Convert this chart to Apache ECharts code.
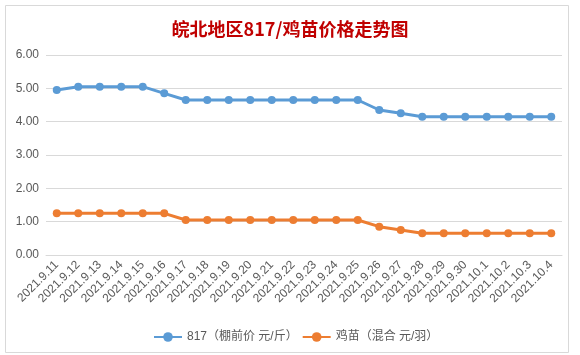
<!DOCTYPE html>
<html>
<head>
<meta charset="utf-8">
<script src="https://cdn.jsdelivr.net/npm/echarts@6/dist/echarts.min.js"></script>
<style>
html,body{margin:0;padding:0;background:#fff;}
#c{width:580px;height:355px;}
</style>
</head>
<body>
<div id="c"></div>
<script>
const categories = ["2021.9.11","2021.9.12","2021.9.13","2021.9.14","2021.9.15","2021.9.16","2021.9.17","2021.9.18","2021.9.19","2021.9.20","2021.9.21","2021.9.22","2021.9.23","2021.9.24","2021.9.25","2021.9.26","2021.9.27","2021.9.28","2021.9.29","2021.9.30","2021.10.1","2021.10.2","2021.10.3","2021.10.4"];
const price817 = [4.95,5.05,5.05,5.05,5.05,4.85,4.65,4.65,4.65,4.65,4.65,4.65,4.65,4.65,4.65,4.35,4.25,4.15,4.15,4.15,4.15,4.15,4.15,4.15];
const chickPrice = [1.25,1.25,1.25,1.25,1.25,1.25,1.05,1.05,1.05,1.05,1.05,1.05,1.05,1.05,1.05,0.85,0.75,0.65,0.65,0.65,0.65,0.65,0.65,0.65];
const seriesNames = ["817（棚前价 元/斤）","鸡苗（混合 元/羽）"];
const titleText = "皖北地区817/鸡苗价格走势图";
const yTicks = {min: 0, max: 6, interval: 1};

const FONT = "'Liberation Sans','Noto Sans CJK SC',sans-serif";
const chart = echarts.init(document.getElementById('c'), null, {renderer: 'canvas'});
chart.setOption({
  animation: false,
  backgroundColor: '#ffffff',
  title: {
    text: titleText,
    left: 'center',
    top: 15,
    textStyle: {color: '#C00000', fontSize: 18, fontWeight: 'bold', fontFamily: "'Noto Sans CJK SC',sans-serif"}
  },
  graphic: [{
    type: 'rect', left: 3, top: 3, silent: true,
    shape: {width: 563, height: 347},
    style: {fill: 'none', stroke: '#d9d9d9', lineWidth: 1}
  }],
  legend: {
    top: 326,
    left: 148,
    itemWidth: 28,
    itemHeight: 12,
    itemGap: 4,
    textStyle: {color: '#595959', fontSize: 12, fontFamily: FONT},
    data: seriesNames
  },
  grid: {left: 46, right: 18, top: 55, bottom: 100},
  xAxis: {
    type: 'category',
    data: categories,
    boundaryGap: true,
    axisLine: {show: true, lineStyle: {color: '#d9d9d9'}},
    axisTick: {show: false},
    axisLabel: {rotate: 45, interval: 0, margin: 8, color: '#595959', fontSize: 12, fontFamily: FONT}
  },
  yAxis: {
    type: 'value',
    min: yTicks.min, max: yTicks.max, interval: yTicks.interval,
    axisLine: {show: false},
    axisTick: {show: false},
    splitLine: {lineStyle: {color: '#d9d9d9'}},
    axisLabel: {color: '#595959', fontSize: 12, margin: 7, fontFamily: FONT, formatter: v => v.toFixed(2)}
  },
  series: [
    {name: seriesNames[0], type: 'line', data: price817, symbol: 'circle', symbolSize: 8,
     itemStyle: {color: '#5B9BD5'}, lineStyle: {color: '#5B9BD5', width: 3}},
    {name: seriesNames[1], type: 'line', data: chickPrice, symbol: 'circle', symbolSize: 8,
     itemStyle: {color: '#ED7D31'}, lineStyle: {color: '#ED7D31', width: 3}}
  ]
});
</script>
</body>
</html>
